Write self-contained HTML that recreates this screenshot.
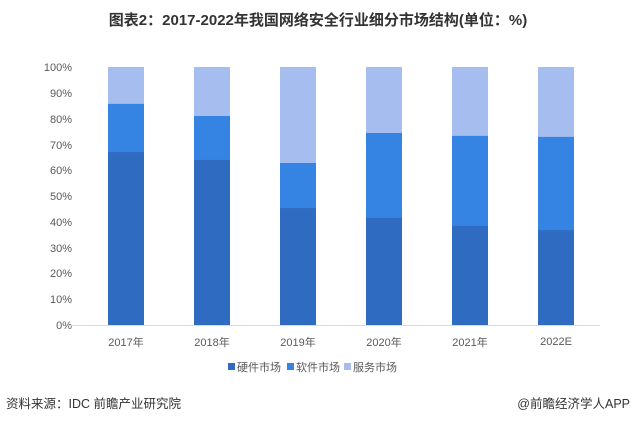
<!DOCTYPE html><html><head><meta charset="utf-8"><style>
body{margin:0;background:#fff;}
svg{display:block;font-family:"Liberation Sans","Noto Sans CJK SC",sans-serif;}
</style></head><body>
<svg width="636" height="423" viewBox="0 0 636 423">
<rect width="636" height="423" fill="#fff"/>
<text x="318" y="25" text-anchor="middle" font-size="15" font-weight="bold" fill="#333">图表2：2017-2022年我国网络安全行业细分市场结构(单位：%)</text>
<g font-size="11" fill="#595959" text-anchor="end">
<text x="72" y="329">0%</text><text x="72" y="303">10%</text><text x="72" y="277">20%</text><text x="72" y="252">30%</text><text x="72" y="226">40%</text><text x="72" y="200">50%</text><text x="72" y="174">60%</text><text x="72" y="149">70%</text><text x="72" y="123">80%</text><text x="72" y="97">90%</text><text x="72" y="71">100%</text>
</g>
<g>
<rect x="108" y="67" width="36" height="258" fill="#a6bdef"/><rect x="108" y="103.9" width="36" height="221.1" fill="#3584e4"/><rect x="108" y="152.1" width="36" height="172.9" fill="#2f6bc1"/>
<rect x="194" y="67" width="36" height="258" fill="#a6bdef"/><rect x="194" y="116" width="36" height="209" fill="#3584e4"/><rect x="194" y="159.9" width="36" height="165.1" fill="#2f6bc1"/>
<rect x="280" y="67" width="36" height="258" fill="#a6bdef"/><rect x="280" y="163" width="36" height="162" fill="#3584e4"/><rect x="280" y="208.1" width="36" height="116.9" fill="#2f6bc1"/>
<rect x="366" y="67" width="36" height="258" fill="#a6bdef"/><rect x="366" y="133" width="36" height="192" fill="#3584e4"/><rect x="366" y="217.9" width="36" height="107.1" fill="#2f6bc1"/>
<rect x="452" y="67" width="36" height="258" fill="#a6bdef"/><rect x="452" y="135.9" width="36" height="189.1" fill="#3584e4"/><rect x="452" y="225.9" width="36" height="99.1" fill="#2f6bc1"/>
<rect x="538" y="67" width="36" height="258" fill="#a6bdef"/><rect x="538" y="136.9" width="36" height="188.1" fill="#3584e4"/><rect x="538" y="230.1" width="36" height="94.9" fill="#2f6bc1"/>
</g>
<line x1="68" y1="325.5" x2="600" y2="325.5" stroke="#d9d9d9"/>
<g font-size="11" fill="#595959" text-anchor="middle">
<text x="126" y="346">2017年</text><text x="212" y="346">2018年</text><text x="298" y="346">2019年</text><text x="384" y="346">2020年</text><text x="470" y="346">2021年</text><text x="556" y="345">2022E</text>
</g>
<g font-size="11" fill="#595959">
<rect x="228" y="363" width="7" height="7" fill="#2f6bc1"/><text x="237" y="371">硬件市场</text>
<rect x="287" y="363" width="7" height="7" fill="#3584e4"/><text x="296" y="371">软件市场</text>
<rect x="344" y="363" width="7" height="7" fill="#a6bdef"/><text x="353" y="371">服务市场</text>
</g>
<text x="6" y="408" font-size="12.5" fill="#333">资料来源：IDC 前瞻产业研究院</text>
<text x="630" y="408" font-size="12.5" fill="#333" text-anchor="end">@前瞻经济学人APP</text>
</svg>
</body></html>
